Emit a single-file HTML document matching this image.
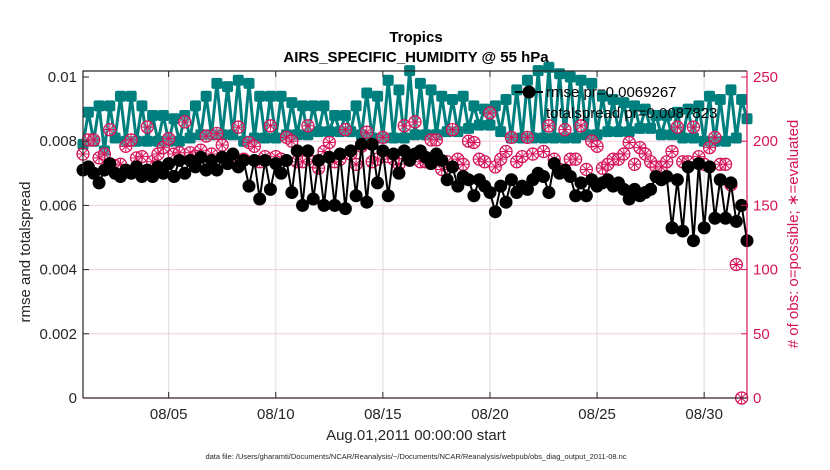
<!DOCTYPE html>
<html><head><meta charset="utf-8">
<style>
html,body{margin:0;padding:0;background:#fff;}
svg{display:block;font-family:"Liberation Sans",Arial,sans-serif;}
</style></head>
<body>
<svg id="chart" width="830" height="470" viewBox="0 0 830 470" xmlns="http://www.w3.org/2000/svg">
  <rect x="0" y="0" width="830" height="470" fill="#fff"/>
  <g id="grid"></g>
  <g id="series"></g>
  <g id="axes"></g>
  <text x="416" y="42" text-anchor="middle" font-size="15" font-weight="bold">Tropics</text>
  <text x="416" y="62" text-anchor="middle" font-size="15" font-weight="bold">AIRS_SPECIFIC_HUMIDITY @ 55 hPa</text>
  <text x="416" y="440" text-anchor="middle" font-size="15" fill="#262626">Aug.01,2011 00:00:00 start</text>
  <text x="416" y="459" text-anchor="middle" font-size="7.5" fill="#262626">data file: /Users/gharamti/Documents/NCAR/Reanalysis/~/Documents/NCAR/Reanalysis/webpub/obs_diag_output_2011-08.nc</text>
  <text transform="translate(30,252) rotate(-90)" text-anchor="middle" font-size="15" fill="#262626">rmse and totalspread</text>
  <text transform="translate(798,234) rotate(-90)" text-anchor="middle" font-size="15" fill="#d6145a"># of obs: o=possible; ∗=evaluated</text>
  <g id="legend"></g>
</svg>
<script>
const xTickLabels = ["08/05","08/10","08/15","08/20","08/25","08/30"];
const xTickDays = [4,9,14,19,24,29];
const yLeftTicks = [0,0.002,0.004,0.006,0.008,0.01];
const yLeftLabels = ["0","0.002","0.004","0.006","0.008","0.01"];
const yRightTicks = [0,50,100,150,200,250];
const rmse = [.0071,.0072,.0070,.0067,.0071,.0073,.0070,.0069,.0071,.0070,.0072,.0069,.0071,.0069,.0072,.0070,.0073,.0069,.0074,.0070,.0074,.0072,.0075,.0071,.0074,.0071,.0075,.0073,.0076,.0072,.0074,.0066,
.0074,.0062,.0074,.0065,.0073,.0070,.0074,.0064,.0077,.0060,.0077,.0062,.0074,.0060,.0075,.0060,.0076,.0059,.0077,.0063,.0079,.0061,.0079,.0067,.0077,.0063,.0076,.0070,.0077,.0074,.0076,
.0077,.0075,.0073,.0076,.0074,.0068,.0072,.0066,.0069,.0068,.0063,.0068,.0066,.0064,.0058,.0066,.0061,.0068,.0064,.0066,.0065,.0068,.0070,.0069,.0064,.0073,.0070,.0071,.0069,.0063,
.0067,.0063,.0068,.0066,.0067,.0068,.0066,.0067,.0065,.0062,.0065,.0063,.0064,.0065,.0069,.0068,.0069,.0053,.0068,.0052,.0072,.0049,.0073,.0053,.0072,.0056,.0068,.0056,.0067,.0055,.0060,.0049];
const spread = [.0079,.0089,.0080,.0091,.0077,.0091,.0081,.0094,.0080,.0094,.0080,.0091,.0080,.0088,.0080,.0088,.0080,.0087,.0080,.0088,.0081,.0091,.0082,.0094,.0082,.0098,.0082,.0097,.0082,.0099,.0080,.0098,
.0081,.0094,.0081,.0094,.0081,.0094,.0082,.0092,.0082,.0091,.0082,.0091,.0083,.0091,.0083,.0088,.0083,.0088,.0083,.0091,.0082,.0095,.0081,.0094,.0081,.0099,.0081,.0096,.0081,.0102,.0082,
.0098,.0082,.0096,.0082,.0094,.0083,.0093,.0083,.0094,.0084,.0091,.0085,.0090,.0085,.0091,.0083,.0093,.0081,.0096,.0081,.0099,.0081,.0102,.0081,.0103,.0081,.0101,.0081,.0100,.0081,
.0099,.0082,.0098,.0082,.0094,.0083,.0093,.0083,.0092,.0083,.0091,.0084,.0090,.0084,.0088,.0082,.0088,.0082,.0089,.0081,.0090,.0081,.0091,.0080,.0094,.0080,.0093,.0080,.0096,.0081,.0093,.0087];
const nobs = [190,201,201,187,190,209,181,182,196,201,187,188,211,184,190,195,202,190,191,215,191,188,193,204,190,206,197,184,188,211,186,
199,196,184,188,212,188,186,203,200,184,184,212,184,179,192,199,184,186,209,190,182,196,207,184,186,203,188,186,182,212,
186,215,184,184,201,201,178,184,209,186,182,200,199,186,184,222,180,186,192,203,184,188,203,190,174,192,212,186,178,209,186,186,
212,178,200,196,179,182,186,186,190,199,182,195,190,184,180,180,184,192,211,184,184,211,188,182,195,203,182,182,166,104,0];

const L=83, R=747, T=71, B=398, DAYS=31.0, STEP=0.25;
const xs = d => L + d/DAYS*(R-L);
const yl = v => B - v/0.01*(B-77);
const yr = c => B - c/250*(B-77);
const NS="http://www.w3.org/2000/svg";
function mk(tag, attrs, parent){const e=document.createElementNS(NS,tag);for(const k in attrs)e.setAttribute(k,attrs[k]);parent.appendChild(e);return e;}
const grid=document.getElementById('grid'), axes=document.getElementById('axes'), ser=document.getElementById('series'), leg=document.getElementById('legend');

xTickDays.forEach((d,i)=>{
  const g=mk('line',{x1:xs(d),x2:xs(d),y1:T,y2:B,stroke:'#dcdcdc','stroke-width':1},grid);
  
  
  const t=mk('line',{x1:xs(d),x2:xs(d),y1:B,y2:B-6,stroke:'#262626','stroke-width':1},axes);
  
  
  const tt=mk('line',{x1:xs(d),x2:xs(d),y1:T,y2:T+6,stroke:'#262626','stroke-width':1},axes);
  
  
  const l=mk('text',{x:xs(d),y:419,'text-anchor':'middle','font-size':15,fill:'#262626'},axes);
  l.textContent=xTickLabels[i];
  
  
});
yRightTicks.forEach(c=>{
  if(c>0&&c<250){const g=mk('line',{x1:L,x2:R,y1:yr(c),y2:yr(c),stroke:'#f3cddb','stroke-width':1},grid);
  
  }
  const t=mk('line',{x1:R,x2:R-6,y1:yr(c),y2:yr(c),stroke:'#d6145a','stroke-width':1},axes);
  
  
  const l=mk('text',{x:753,y:yr(c)+5,'font-size':15,fill:'#d6145a'},axes);
  l.textContent=String(c);
  
  
});
yLeftTicks.forEach((v,i)=>{
  const t=mk('line',{x1:L,x2:L+6,y1:yl(v),y2:yl(v),stroke:'#262626','stroke-width':1},axes);
  
  
  const l=mk('text',{x:77,y:yl(v)+5,'text-anchor':'end','font-size':15,fill:'#262626'},axes);
  l.textContent=yLeftLabels[i];
  
  
});
const frame=mk('path',{d:`M${L},${B} L${L},${T} L${R},${T}`,fill:'none',stroke:'#262626','stroke-width':1.2},axes);


const xa=mk('line',{x1:L,x2:R,y1:B,y2:B,stroke:'#3a1f2a','stroke-width':1.2},axes);


const ra=mk('line',{x1:R,x2:R,y1:T,y2:B,stroke:'#d6145a','stroke-width':1.2},axes);



function obsMarker(cx,cy,parent){
  const g=mk('g',{},parent);
  
  
  mk('circle',{cx:cx,cy:cy,r:6,fill:'#fff','fill-opacity':0.3,stroke:'#d6145a','stroke-width':1.3},g);
  const r=5.5,s=r*0.707;
  mk('path',{d:`M${cx-r},${cy}H${cx+r}M${cx},${cy-r}V${cy+r}M${cx-s},${cy-s}L${cx+s},${cy+s}M${cx-s},${cy+s}L${cx+s},${cy-s}`,stroke:'#d6145a','stroke-width':1},g);
}
// spread line + squares
let dS=spread.map((v,i)=>(i?'L':'M')+xs(i*STEP).toFixed(1)+','+yl(v).toFixed(1)).join('');
const sl=mk('path',{d:dS,fill:'none',stroke:'#007f7f','stroke-width':3},ser);


spread.forEach((v,i)=>{
  const m=mk('rect',{x:xs(i*STEP)-5.5,y:yl(v)-5.5,width:11,height:11,rx:2,fill:'#007f7f'},ser);
  
  
});
nobs.forEach((c,i)=>obsMarker(xs(i*STEP),yr(c),ser));
let dR=rmse.map((v,i)=>(i?'L':'M')+xs(i*STEP).toFixed(1)+','+yl(v).toFixed(1)).join('');
const rl=mk('path',{d:dR,fill:'none',stroke:'#000','stroke-width':2},ser);


rmse.forEach((v,i)=>{
  const m=mk('circle',{cx:xs(i*STEP),cy:yl(v),r:6.5,fill:'#000'},ser);
  
  
});
// legend
const l1=mk('line',{x1:515,x2:543,y1:92,y2:92,stroke:'#000','stroke-width':2},leg);


const c1=mk('circle',{cx:529,cy:92,r:6.5,fill:'#000'},leg);


const t1=mk('text',{x:546,y:97,'font-size':15,fill:'#000'},leg);
t1.textContent='rmse pr=0.0069267';


const t2=mk('text',{x:546,y:118,'font-size':15,fill:'#000'},leg);
t2.textContent='totalspread pr=0.0087823';


</script>
</body></html>
